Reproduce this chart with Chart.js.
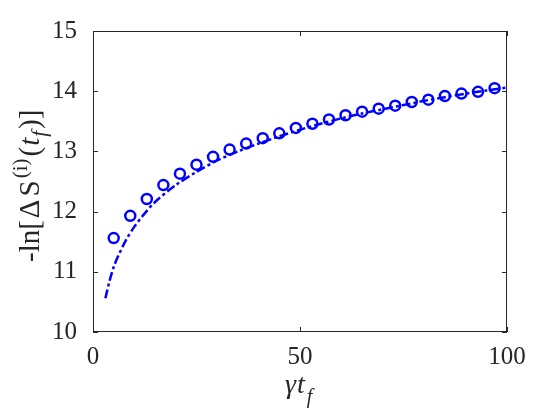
<!DOCTYPE html>
<html>
<head>
<meta charset="utf-8">
<script src="https://cdn.jsdelivr.net/npm/chart.js@4"></script>
<style>
  html, body { margin: 0; padding: 0; background: #fff; }
  #wrap { width: 560px; height: 420px; }
</style>
</head>
<body>
<div id="wrap"><canvas id="chart" width="560" height="420"></canvas></div>
<script>
// circles (simulation)
const pointX = [5, 9, 13, 17, 21, 25, 29, 33, 37, 41, 45, 49, 53, 57, 61, 65, 69, 73, 77, 81, 85, 89, 93, 97];
const pointY = [11.56, 11.93, 12.21, 12.44, 12.63, 12.78, 12.91, 13.03, 13.13, 13.22, 13.30, 13.39, 13.46, 13.53, 13.60, 13.66, 13.71, 13.76, 13.82, 13.86, 13.92, 13.96, 13.99, 14.05];

// dash-dot curve
const lineX = [3, 4, 5, 6, 8, 10, 12, 15, 20, 25, 30, 35, 40, 45, 50, 55, 60, 65, 70, 75, 80, 85, 90, 95, 100];
const lineY = [10.56, 10.85, 11.08, 11.25, 11.53, 11.75, 11.93, 12.16, 12.44, 12.66, 12.85, 13.00, 13.13, 13.25, 13.36, 13.46, 13.55, 13.63, 13.70, 13.77, 13.84, 13.90, 13.96, 14.01, 14.06];

const xTicks = [0, 50, 100];
const yTicks = [10, 11, 12, 13, 14, 15];

const SERIF = '"Liberation Serif", "Times New Roman", serif';
const BLUE = '#0000ff';

// box, inward ticks and axis titles drawn MATLAB-style
const axesPlugin = {
  id: 'axesPlugin',
  afterDraw(chart) {
    const ctx = chart.ctx;
    const a = chart.chartArea;
    const xs = chart.scales.x, ys = chart.scales.y;
    ctx.save();
    ctx.strokeStyle = '#262626';
    ctx.lineWidth = 1;
    ctx.strokeRect(a.left + 0.5, a.top + 0.5, a.right - a.left - 1, a.bottom - a.top - 1);
    ctx.beginPath();
    xTicks.forEach(v => {
      const px = Math.round(xs.getPixelForValue(v)) + 0.5;
      ctx.moveTo(px, a.bottom); ctx.lineTo(px, a.bottom - 5);
      ctx.moveTo(px, a.top); ctx.lineTo(px, a.top + 5);
    });
    yTicks.forEach(v => {
      const py = Math.round(ys.getPixelForValue(v)) + 0.5;
      ctx.moveTo(a.left, py); ctx.lineTo(a.left + 5, py);
      ctx.moveTo(a.right, py); ctx.lineTo(a.right - 5, py);
    });
    ctx.stroke();

    ctx.fillStyle = '#262626';
    ctx.textBaseline = 'alphabetic';
    ctx.textAlign = 'left';

    // x title: γt_f
    ctx.font = 'italic 28px ' + SERIF;
    const wg = ctx.measureText('γ').width;
    const wt = ctx.measureText('t').width;
    let x0 = 285;
    ctx.fillText('γ', x0, 393);
    ctx.fillText('t', x0 + wg + 1, 393);
    ctx.font = 'italic 20px ' + SERIF;
    ctx.fillText('f', x0 + wg + wt + 3, 403);

    // y title: -ln[ΔS^(i)(t_f)]
    const parts = [
      { t: '-ln[', f: '29px ', dy: 0, g: 2 },
      { t: 'Δ', f: '29px ', dy: 0, g: 3 },
      { t: 'S', f: '29px ', dy: 0, g: 2 },
      { t: '(i)', f: '21px ', dy: -12, g: 2 },
      { t: '(', f: '29px ', dy: 0, g: 1 },
      { t: 't', f: 'italic 29px ', dy: 0, g: 1 },
      { t: 'f', f: 'italic 21px ', dy: 7, g: 2 },
      { t: ')]', f: '29px ', dy: 0, g: 0 }
    ];
    ctx.translate(39, 262);
    ctx.rotate(-Math.PI / 2);
    let cx = 0;
    parts.forEach(p => {
      ctx.font = p.f + SERIF;
      ctx.fillText(p.t, cx, p.dy);
      cx += ctx.measureText(p.t).width + p.g;
    });
    ctx.restore();
  }
};

new Chart(document.getElementById('chart'), {
  type: 'scatter',
  data: {
    datasets: [
      {
        type: 'line',
        data: lineX.map((x, i) => ({ x: x, y: lineY[i] })),
        borderColor: BLUE,
        borderWidth: 2.5,
        borderDash: [9, 3, 3, 3],
        pointRadius: 0,
        fill: false,
        tension: 0.3
      },
      {
        data: pointX.map((x, i) => ({ x: x, y: pointY[i] })),
        pointStyle: 'circle',
        pointRadius: 5,
        pointBorderWidth: 2.5,
        pointBorderColor: BLUE,
        pointBackgroundColor: 'rgba(0,0,0,0)'
      }
    ]
  },
  options: {
    responsive: false,
    animation: false,
    layout: { padding: { top: 31, right: 53, left: 0, bottom: 0 } },
    plugins: { legend: { display: false }, tooltip: { enabled: false } },
    scales: {
      x: {
        type: 'linear', min: 0, max: 100,
        afterBuildTicks: s => { s.ticks = xTicks.map(v => ({ value: v })); },
        afterFit: s => { s.height = 88; },
        grid: { display: false },
        border: { display: false },
        ticks: { color: '#262626', font: { family: SERIF, size: 25 }, padding: 2, maxRotation: 0 }
      },
      y: {
        min: 10, max: 15,
        afterBuildTicks: s => { s.ticks = yTicks.map(v => ({ value: v })); },
        afterFit: s => { s.width = 93; },
        grid: { display: false },
        border: { display: false },
        ticks: { color: '#262626', font: { family: SERIF, size: 25 }, padding: 8 }
      }
    }
  },
  plugins: [axesPlugin]
});
</script>
</body>
</html>
